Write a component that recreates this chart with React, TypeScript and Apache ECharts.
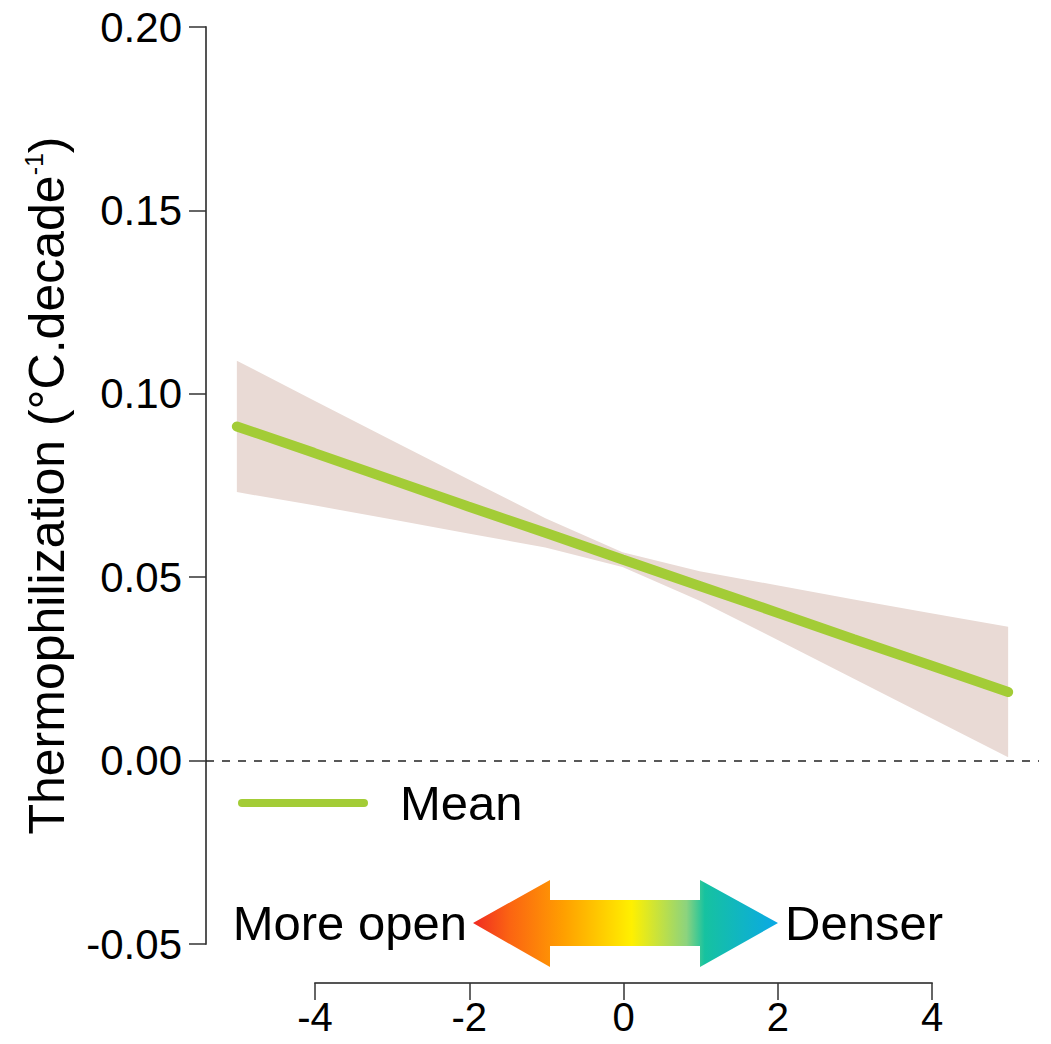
import React, { useEffect, useRef } from "react";
import * as echarts from "echarts";

const xs = [-5, -4, -3, -2, -1, 0, 1, 2, 3, 4, 5];
const meanVals = [0.0911, 0.0839, 0.0766, 0.0693, 0.0621, 0.0548, 0.0476, 0.0404, 0.0331, 0.0259, 0.0187];
const upperVals = [0.109, 0.0982, 0.0874, 0.0767, 0.0661, 0.0568, 0.0516, 0.0478, 0.0439, 0.0402, 0.0365];
const lowerVals = [0.0732, 0.0696, 0.0658, 0.0619, 0.0581, 0.0528, 0.0436, 0.033, 0.0223, 0.0116, 0.0009];
const yTicks = { min: -0.05, max: 0.2, interval: 0.05 };
const xTicks = { min: -4, max: 4, interval: 2 };
const legendLabel = "Mean";
const leftLabel = "More open";
const rightLabel = "Denser";

const FONT = "'Liberation Sans', Arial, Helvetica, sans-serif";
const GREEN = "#a3cc36";
const BAND = "#e9dad5";

export default function App() {
  const ref = useRef<HTMLDivElement>(null);
  useEffect(() => {
    document.body.style.margin = "0";
    const chart = echarts.init(ref.current!, null, { renderer: "svg" });
    const option: any = {
      animation: false,
      backgroundColor: "#ffffff",
      textStyle: { fontFamily: FONT },
      grid: [
        { left: 206, top: 27, width: 833, height: 917 },
        { left: 315, top: 900, width: 617, height: 83 },
      ],
      xAxis: [
        { type: "value", gridIndex: 0, min: -5.4, max: 5.4, show: false },
        {
          type: "value",
          gridIndex: 1,
          min: xTicks.min,
          max: xTicks.max,
          interval: xTicks.interval,
          position: "bottom",
          axisLine: { show: true, onZero: false, lineStyle: { color: "#555", width: 2 } },
          axisTick: { show: true, length: 17, lineStyle: { color: "#333", width: 1.5 } },
          axisLabel: { fontSize: 40, color: "#000", margin: 14, fontFamily: FONT },
          splitLine: { show: false },
        },
      ],
      yAxis: [
        {
          type: "value",
          gridIndex: 0,
          min: yTicks.min,
          max: yTicks.max,
          interval: yTicks.interval,
          axisLine: { show: true, onZero: false, lineStyle: { color: "#555", width: 2 } },
          axisTick: { show: true, length: 17, lineStyle: { color: "#333", width: 1.5 } },
          axisLabel: {
            fontSize: 42,
            color: "#000",
            margin: 24,
            fontFamily: FONT,
            formatter: (v: number) => (Math.round(v * 100) / 100).toFixed(2),
          },
          splitLine: { show: false },
          name: "{a|Thermophilization (°C.decade}{s|-1}{a|)}",
          nameLocation: "middle",
          nameRotate: 90,
          nameGap: 133,
          nameTextStyle: {
            fontFamily: FONT,
            color: "#000",
            fontSize: 50,
            rich: {
              a: { fontSize: 50, color: "#000", fontFamily: FONT },
              s: { fontSize: 25, color: "#000", fontFamily: FONT, padding: [0, 0, 27, 0] },
            },
          },
        },
        { type: "value", gridIndex: 1, min: 0, max: 1, show: false },
      ],
      series: [
        {
          type: "custom",
          xAxisIndex: 0,
          yAxisIndex: 0,
          coordinateSystem: "cartesian2d",
          data: [[0, 0]],
          renderItem: (_params: any, api: any) => {
            const pts: number[][] = [];
            for (let i = 0; i < xs.length; i++) pts.push(api.coord([xs[i], upperVals[i]]));
            for (let i = xs.length - 1; i >= 0; i--) pts.push(api.coord([xs[i], lowerVals[i]]));
            return { type: "polygon", shape: { points: pts }, style: { fill: BAND } };
          },
          z: 1,
        },
        {
          type: "line",
          xAxisIndex: 0,
          yAxisIndex: 0,
          symbol: "none",
          lineStyle: { color: GREEN, width: 10, cap: "round" },
          data: xs.map((x, i) => [x, meanVals[i]]),
          z: 3,
          markLine: {
            silent: true,
            symbol: "none",
            label: { show: false },
            lineStyle: { color: "#222", type: [8, 8], width: 1.5 },
            data: [{ yAxis: 0 }],
          },
        },
        { type: "line", xAxisIndex: 1, yAxisIndex: 1, data: [] },
      ],
      graphic: [
        {
          type: "line",
          shape: { x1: 242, y1: 803, x2: 364, y2: 803 },
          style: { stroke: GREEN, lineWidth: 8, lineCap: "round" },
        },
        {
          type: "text",
          x: 400,
          y: 803,
          style: { text: legendLabel, font: `49px ${FONT}`, fill: "#000", verticalAlign: "middle", align: "left" },
        },
        {
          type: "polygon",
          shape: {
            points: [
              [473, 923],
              [550, 880],
              [550, 900],
              [700, 900],
              [700, 880],
              [778, 923],
              [700, 967],
              [700, 946],
              [550, 946],
              [550, 967],
            ],
          },
          style: {
            fill: new echarts.graphic.LinearGradient(0, 0, 1, 0, [
              { offset: 0, color: "#f02a22" },
              { offset: 0.12, color: "#fb6412" },
              { offset: 0.3, color: "#ffa000" },
              { offset: 0.52, color: "#fff000" },
              { offset: 0.7, color: "#8cd37e" },
              { offset: 0.76, color: "#16c2a0" },
              { offset: 1, color: "#0aa8e6" },
            ]),
          },
        },
        {
          type: "text",
          x: 467,
          y: 923,
          style: { text: leftLabel, font: `49px ${FONT}`, fill: "#000", verticalAlign: "middle", align: "right" },
        },
        {
          type: "text",
          x: 785,
          y: 923,
          style: { text: rightLabel, font: `49px ${FONT}`, fill: "#000", verticalAlign: "middle", align: "left" },
        },
      ],
    };
    chart.setOption(option);
    return () => chart.dispose();
  }, []);
  return (
    <div
      ref={ref}
      style={{ position: "fixed", left: 0, top: 0, width: 1051, height: 1044, background: "#fff" }}
    />
  );
}
